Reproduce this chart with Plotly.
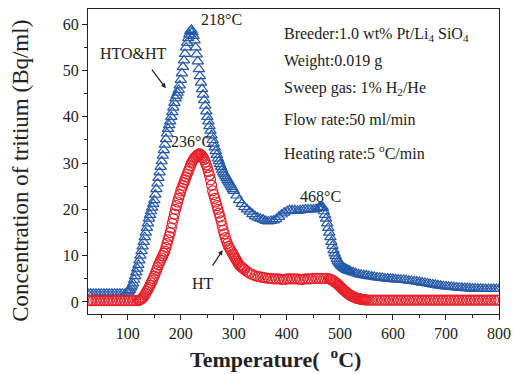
import plotly.graph_objects as go

# Temperature grids (°C) on which the curves were read
t_blue = (list(range(25, 100, 5)) + list(range(100, 302, 2)) + list(range(305, 460, 5))
          + list(range(460, 522, 2)) + list(range(525, 805, 5)))
t_red = (list(range(25, 120, 5)) + list(range(120, 322, 2)) + list(range(325, 480, 5))
         + list(range(480, 552, 2)) + list(range(555, 805, 5)))

hto_ht = (
    [1.8] * 15
    + [2.0, 2.3, 2.6, 3.1, 3.5, 4.0, 4.8, 5.6, 6.4, 7.2,
       8.0, 9.0, 10.0, 11.0, 12.0, 13.0, 14.0, 15.0, 16.0, 17.0,
       18.0, 18.8, 19.6, 20.4, 21.2, 22.0, 23.2, 24.4, 25.6, 26.8,
       28.0, 29.2, 30.4, 31.6, 32.8, 34.0, 35.2, 36.4, 37.4, 38.2,
       39.0, 40.0, 41.0, 42.0, 43.0, 44.0, 44.6, 45.2, 45.8, 46.8,
       48.0, 49.4, 50.8, 52.2, 53.6, 55.0, 56.0, 57.0, 57.8, 58.5,
       58.8, 58.3, 57.5, 56.5, 55.0, 53.5, 52.0, 50.3, 48.8, 47.4,
       46.0, 44.8, 43.6, 42.4, 41.2, 40.0, 39.0, 38.0, 37.0, 36.0,
       35.0, 34.2, 33.4, 32.6, 31.8, 31.0, 30.4, 29.8, 29.2, 28.6,
       28.0, 27.6, 27.2, 26.8, 26.4, 26.0, 25.6, 25.2, 24.8, 24.4,
       24.0]
    + [23.0, 22.0, 21.2, 20.5, 20.0, 19.5, 19.0, 18.5, 18.2, 18.0,
       17.8, 17.5, 17.4, 17.5, 17.6, 17.9, 18.4, 18.9, 19.3, 19.6,
       19.8, 19.8, 19.8, 19.7, 19.8, 19.9, 20.0, 20.0, 20.0, 20.0,
       20.1]
    + [20.3, 20.4, 20.5, 20.5, 20.4, 19.6, 18.8, 18.0, 17.0, 16.0,
       15.0, 14.0, 13.0, 12.1, 11.2, 10.5, 9.9, 9.3, 8.8, 8.5,
       8.2, 7.9, 7.7, 7.5, 7.3, 7.2, 7.0, 6.9, 6.8, 6.7,
       6.6]
    + [6.4, 6.2, 6.0, 5.9, 5.8, 5.7, 5.6, 5.5, 5.4, 5.3,
       5.25, 5.2, 5.1, 5.05, 5.0, 4.95, 4.9, 4.85, 4.8, 4.75,
       4.7, 4.6, 4.55, 4.5, 4.4, 4.3, 4.2, 4.1, 4.0, 3.9,
       3.8, 3.7, 3.6, 3.5, 3.4, 3.35, 3.3, 3.25, 3.2, 3.15,
       3.1, 3.05, 3.0, 3.0, 2.95, 2.9, 2.9, 2.85, 2.85, 2.8,
       2.8, 2.8, 2.8, 2.8, 2.8, 2.8]
)

ht = (
    [0.3] * 19
    + [0.3, 0.4, 0.5, 0.7, 0.9, 1.1, 1.5, 1.9, 2.3, 2.7,
       3.1, 3.6, 4.1, 4.6, 5.1, 5.6, 6.2, 6.8, 7.4, 8.0,
       8.5, 9.0, 9.5, 10.0, 10.5, 11.0, 11.8, 12.6, 13.4, 14.2,
       15.0, 16.0, 17.0, 18.0, 19.0, 20.0, 20.8, 21.6, 22.4, 23.2,
       24.0, 24.6, 25.2, 25.8, 26.4, 27.0, 27.6, 28.2, 28.8, 29.4,
       30.0, 30.4, 30.8, 31.1, 31.4, 31.6, 31.8, 32.0, 32.0, 31.8,
       31.5, 31.2, 30.8, 30.2, 29.6, 29.0, 28.2, 27.4, 26.4, 25.2,
       24.0, 23.2, 22.4, 21.6, 20.8, 20.0, 19.2, 18.4, 17.5, 16.5,
       15.5, 14.7, 13.9, 13.2, 12.6, 12.0, 11.6, 11.2, 10.8, 10.4,
       10.0, 9.6, 9.2, 8.8, 8.4, 8.0, 7.8, 7.6, 7.4, 7.2,
       7.0]
    + [6.6, 6.2, 5.9, 5.7, 5.5, 5.4, 5.3, 5.2, 5.1, 5.1,
       5.0, 5.0, 5.0, 4.9, 4.9, 5.0, 5.0, 5.0, 5.0, 5.0,
       4.9, 4.9, 5.0, 5.0, 5.0, 5.1, 5.1, 5.1, 5.1, 5.1,
       5.1]
    + [5.0, 4.9, 4.8, 4.7, 4.5, 4.4, 4.2, 4.0, 3.8, 3.6,
       3.4, 3.2, 2.9, 2.7, 2.5, 2.3, 2.1, 1.9, 1.7, 1.6,
       1.4, 1.3, 1.2, 1.1, 1.0, 0.9, 0.8, 0.75, 0.7, 0.65,
       0.6, 0.55, 0.5, 0.5, 0.45, 0.45]
    + [0.4] * 50
)

x_ticks = [100, 200, 300, 400, 500, 600, 700, 800]
y_ticks = [0, 10, 20, 30, 40, 50, 60]

BLUE = "#2458a8"
RED = "#e8202a"
FONT = "Liberation Serif"
INK = "#222"

fig = go.Figure()
fig.add_trace(go.Scatter(
    x=t_blue, y=hto_ht, mode="markers", name="HTO&HT",
    marker=dict(symbol="triangle-up-open", size=10, color=BLUE,
                line=dict(width=1.2, color=BLUE)),
))
fig.add_trace(go.Scatter(
    x=t_red, y=ht, mode="markers", name="HT",
    marker=dict(symbol="circle-open", size=10, color=RED,
                line=dict(width=1.2, color=RED)),
))

tf = dict(family=FONT, size=16, color=INK)
fig.update_layout(
    width=521, height=374,
    margin=dict(l=88, r=22, t=9, b=60),
    paper_bgcolor="white", plot_bgcolor="white",
    showlegend=False,
    font=dict(family=FONT, color=INK),
)
fig.update_xaxes(
    range=[25, 800], tickvals=x_ticks, ticks="outside", ticklen=5, tickwidth=1,
    tickcolor=INK, showline=True, linecolor=INK, linewidth=1.2, mirror=True,
    showgrid=False, zeroline=False, tickfont=tf,
    minor=dict(ticks="outside", ticklen=3, dtick=50, tick0=0, tickcolor=INK, showgrid=False),
)
fig.update_yaxes(
    range=[-2.6, 63.3], tickvals=y_ticks, ticks="outside", ticklen=5, tickwidth=1,
    tickcolor=INK, showline=True, linecolor=INK, linewidth=1.2, mirror=True,
    showgrid=False, zeroline=False, tickfont=tf,
    minor=dict(ticks="outside", ticklen=3, dtick=5, tick0=0, tickcolor=INK, showgrid=False),
)

# axis titles
fig.add_annotation(xref="paper", yref="paper", x=0.455, y=-0.145, yanchor="middle",
                   text="<b>Temperature(  <sup>o</sup>C)</b>", showarrow=False,
                   font=dict(family=FONT, size=22, color=INK))
fig.add_annotation(xref="paper", yref="paper", x=-0.165, y=0.47, xanchor="center", yanchor="middle",
                   text="Concentration of tritium (Bq/ml)", textangle=-90, showarrow=False,
                   font=dict(family=FONT, size=23, color=INK))

af = dict(family=FONT, size=16, color=INK)
labels = [
    ("218°C", 277, 61.0),
    ("HTO&HT", 111, 53.6),
    ("236°C", 220, 34.6),
    ("468°C", 463, 22.7),
    ("HT", 241, 3.9),
]
for t, xv, yv in labels:
    fig.add_annotation(x=xv, y=yv, text=t, showarrow=False, font=af)

fig.add_annotation(x=171.6, y=46.2, ax=-15, ay=-20, text="", showarrow=True,
                   arrowhead=2, arrowsize=0.8, arrowwidth=1.2, arrowcolor=INK)
fig.add_annotation(x=278.8, y=11.2, ax=-11, ay=17, text="", showarrow=True,
                   arrowhead=2, arrowsize=0.8, arrowwidth=1.2, arrowcolor=INK)

info = [
    ("Breeder:1.0 wt% Pt/Li<sub>4</sub> SiO<sub>4</sub>", 57.7),
    ("Weight:0.019 g", 52.0),
    ("Sweep gas: 1% H<sub>2</sub>/He", 46.2),
    ("Flow rate:50 ml/min", 39.5),
    ("Heating rate:5 <sup>o</sup>C/min", 32.4),
]
for t, yv in info:
    fig.add_annotation(x=391.5, y=yv, text=t, showarrow=False, xanchor="left", font=af)

fig.write_html("out.html")
